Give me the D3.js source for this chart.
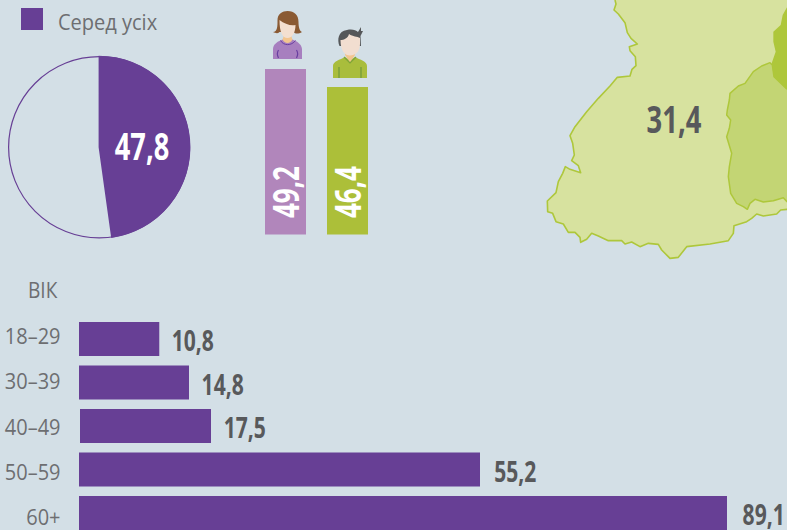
<!DOCTYPE html>
<html><head><meta charset="utf-8">
<script src="https://cdn.jsdelivr.net/npm/d3@7/dist/d3.min.js"></script>
<style>html,body{margin:0;padding:0;background:#d3dfe6;overflow:hidden}svg{display:block}text{font-family:"Open Sans","Noto Sans",sans-serif}</style>
</head><body><div id="c"></div>
<script>
const legendLabel = "Серед усіх";
const overallValue = 47.8;
const genderLabels = ["49,2","46,4"];
const genderValues = [49.2,46.4];
const genderColors = ["#b186bb","#acbf39"];
const ageTitle = "ВІК";
const ageCategories = ["18–29","30–39","40–49","50–59","60+"];
const ageValues = [10.8,14.8,17.5,55.2,89.1];
const mapValue = "31,4";
const mapOuter = [[255,0],[258,12],[252,30],[265,42],[285,68],[292,98],[303,115],[322,132],[298,140],[300,152],[316,170],[318,197],[306,208],[300,228],[262,232],[240,258],[205,295],[170,335],[135,380],[120,407],[128,430],[133,465],[125,482],[145,497],[152,518],[120,508],[106,500],[98,520],[85,545],[78,578],[52,603],[53,635],[68,640],[78,665],[100,672],[115,697],[135,697],[150,712],[152,727],[170,718],[185,700],[205,708],[235,722],[275,722],[285,732],[305,726],[330,740],[355,730],[385,733],[395,750],[420,775],[445,772],[470,740],[540,732],[595,722],[610,700],[612,677],[650,665],[665,655],[680,642],[700,648],[740,642],[752,630],[771,628],[800,628],[800,-5],[255,-5]];
const mapInner = [[771,268],[732,230],[727,195],[720,188],[695,198],[670,215],[645,250],[625,258],[600,280],[598,300],[592,330],[590,345],[602,360],[598,385],[590,410],[605,460],[598,500],[595,530],[602,580],[620,610],[640,620],[652,628],[660,610],[675,598],[700,606],[730,602],[760,593],[771,605],[800,620],[800,268]];
const mapDark = [[800,10],[771,22],[758,45],[752,75],[730,95],[730,125],[737,155],[725,190],[732,230],[771,268],[800,275]];

const purple="#673f95", ink="#58595b", grey="#6d6e71";
const svg=d3.select("#c").append("svg").attr("width",787).attr("height",530);

// map
const mx=d3.scaleLinear().domain([0,771]).range([530,787]);
const my=d3.scaleLinear().domain([0,810]).range([0,270]);
const mline=d3.line().x(d=>mx(d[0])).y(d=>my(d[1])).curve(d3.curveLinear);
svg.append("path").attr("d",mline(mapOuter)).attr("fill","#d7e29f").attr("stroke","#aec73b").attr("stroke-width",1.6).attr("stroke-linejoin","round");
svg.append("path").attr("d",mline(mapInner)).attr("fill","#c3d574").attr("stroke","#aec73b").attr("stroke-width",1.5).attr("stroke-linejoin","round");
svg.append("path").attr("d",mline(mapDark)).attr("fill","#aec73b");
function condensed(x,y,t,size,sx,fill,anchor,rot,weight){
  const g=svg.append("g").attr("transform",`translate(${x},${y})`+(rot?` rotate(${rot})`:"")+` scale(${sx},1)`);
  return g.append("text").text(t).attr("font-size",size).attr("font-weight",weight||700).attr("fill",fill).attr("text-anchor",anchor||"start");
}
condensed(674,132.5,mapValue,37,.74,ink,"middle");

// legend
svg.append("rect").attr("x",21).attr("y",8).attr("width",22).attr("height",22).attr("fill",purple);
condensed(58,29.5,legendLabel,22,.91,grey,"start",0,400);

// pie
const pieRing=svg.append("g").attr("transform","translate(99.2,147.3)");
pieRing.append("circle").attr("r",90.6).attr("fill","none").attr("stroke",purple).attr("stroke-width",1.2);
const pieG=svg.append("g").attr("transform","translate(98.6,147.3)");
const ang=d3.scaleLinear().domain([0,100]).range([0,2*Math.PI]);
pieG.append("path").attr("d",d3.arc().innerRadius(0).outerRadius(91.6).startAngle(0).endAngle(ang(overallValue))()).attr("fill",purple);
condensed(142,160,"47,8",37,.735,"#fff","middle");

// gender
const gx=d3.scaleBand().domain(genderLabels).range([265,368]).paddingInner(21/62).paddingOuter(0);
const gy=d3.scaleLinear().domain([0,46.4,49.2]).range([234.5,87,69]);
svg.selectAll(".g").data(genderValues).join("rect").attr("x",(d,i)=>gx(genderLabels[i])).attr("width",gx.bandwidth())
  .attr("y",d=>gy(d)).attr("height",d=>gy(0)-gy(d)).attr("fill",(d,i)=>genderColors[i]);
genderValues.forEach((d,i)=>condensed(gx(genderLabels[i])+gx.bandwidth()/2+13,218,genderLabels[i],36,.72,"#fff","start",-90));

// icons
const f=svg.append("g").attr("transform","translate(287.5,0)");
f.append("path").attr("d","M-14.5,59V49C-14.5,44,-9,41,-5,39.5H5C9,41,14,44,14.5,49V59Z").attr("fill","#a77fbf");
f.append("path").attr("d","M-5,39.5C-3,44,3,44,5,39.5L3,34H-3Z").attr("fill","#f3c58f");
f.append("path").attr("d","M-7,40.5C-4,46,4,46,8,40.5").attr("fill","none").attr("stroke","#6a3fa0").attr("stroke-width",1);
f.append("path").attr("d","M-9,50C-11,53,-10,56,-9,58M9,50C11,53,10,56,9,58").attr("fill","none").attr("stroke","#6a3fa0").attr("stroke-width",1.2);
f.append("path").attr("d","M-14.5,32C-10,32,-10,26,-10,20C-10,14,-5,11,0,11C7,11,11,15,11,22C11,27,12,31,14.5,32C11,34,8,34,6,32H-8C-10,34,-12,33,-14.5,32Z").attr("fill","#8a5a33");
f.append("path").attr("d","M-8,20C-3,24,3,26,8,25C8,32,5,38,0,38C-5,38,-8,32,-8,20Z").attr("fill","#f3dfd0");
const m=svg.append("g").attr("transform","translate(350,0)");
m.append("path").attr("d","M-17,78V66C-17,61,-10,60,-5,57L0,60L5,57C10,60,17,61,17,66V78Z").attr("fill","#a9bd3c");
m.append("path").attr("d","M-6,57L0,63L6,57").attr("fill","none").attr("stroke","#7ea23a").attr("stroke-width",1.2);
m.append("path").attr("d","M-11,67V78M11,67V78").attr("stroke","#7ea23a").attr("stroke-width",1.6);
m.append("path").attr("d","M-5,55L0,62L5,55L4,50H-4Z").attr("fill","#f3c58f");
m.append("path").attr("d","M-10.5,46C-13,40,-12,31,-3,30C2,29,6,30,8,32L11,27L11,31L13,31L10.5,36L11,46Z").attr("fill","#555759");
m.append("path").attr("d","M-1,34C3,37,7,36,10,38L10,44C10,52,5,55.5,0,55.5C-5,55.5,-9.5,51,-9.5,40C-6,40,-2,38,-1,34Z").attr("fill","#f2ded0");

// age bars
const ay=d3.scaleBand().domain(ageCategories).range([322,530]).paddingInner(9.5/43.5).paddingOuter(0);
const ly=d3.scalePoint().domain(ageCategories).range([344,525]);
const ax=d3.scaleLinear().domain([0,14.8,17.5,55.2,89.1]).range([79,189,211,480,727]);
const gap=d3.scaleLinear().domain([0,89.1]).range([12,15.6]);
condensed(28,298,ageTitle,22,.87,grey,"start",0,400);
svg.selectAll(".b").data(ageValues).join("rect").attr("x",(d,i)=>i==2?80:79).attr("y",(d,i)=>ay(ageCategories[i]))
  .attr("width",(d,i)=>ax(d)-(i==2?80:79)).attr("height",ay.bandwidth()).attr("fill",purple);
ageValues.forEach((d,i)=>{
  const y=ay(ageCategories[i]);
  condensed(60.5,ly(ageCategories[i]),ageCategories[i],21.5,.93,grey,"end",0,400);
  condensed(ax(d)+gap(d),y+29,String(d).replace(".",","),28.5,.74,ink,"start");
});
</script></body></html>
